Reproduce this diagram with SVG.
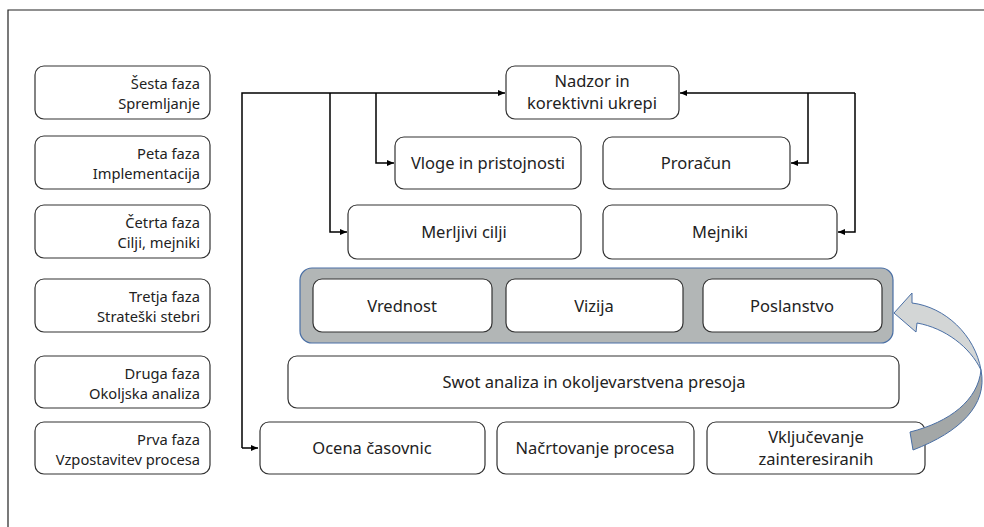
<svg xmlns="http://www.w3.org/2000/svg" width="984" height="527" viewBox="0 0 984 527">
<defs>
<marker id="arr" markerWidth="8" markerHeight="8" refX="7" refY="4" orient="auto" markerUnits="userSpaceOnUse">
<path d="M0,1 L7,4 L0,7 Z" fill="#000"/>
</marker>
<style>
.box{fill:#fff;stroke:#333;stroke-width:1.2}
.t{font-family:"Noto Sans","Liberation Sans",sans-serif;font-size:16.5px;fill:#222;text-anchor:middle}
.l{font-family:"Noto Sans","Liberation Sans",sans-serif;font-size:14.7px;fill:#222;text-anchor:end}
.c{fill:none;stroke:#000;stroke-width:1.5}
</style>
</defs>
<rect width="984" height="527" fill="#fff"/>
<g id="frame"><path d="M8,527 L8,10 L984,10" fill="none" stroke="#222" stroke-width="1.2"/></g>

<g id="phase6"><rect class="box" x="35" y="66" width="175" height="53" rx="9"/><text class="l" x="200" y="89">Šesta faza</text><text class="l" x="200" y="109">Spremljanje</text></g>
<g id="phase5"><rect class="box" x="35" y="136" width="175" height="53" rx="9"/><text class="l" x="200" y="159">Peta faza</text><text class="l" x="200" y="179">Implementacija</text></g>
<g id="phase4"><rect class="box" x="35" y="205" width="175" height="53" rx="9"/><text class="l" x="200" y="228">Četrta faza</text><text class="l" x="200" y="248">Cilji, mejniki</text></g>
<g id="phase3"><rect class="box" x="35" y="279" width="175" height="53" rx="9"/><text class="l" x="200" y="302">Tretja faza</text><text class="l" x="200" y="322">Strateški stebri</text></g>
<g id="phase2"><rect class="box" x="35" y="356" width="175" height="52" rx="9"/><text class="l" x="200" y="379">Druga faza</text><text class="l" x="200" y="399">Okoljska analiza</text></g>
<g id="phase1"><rect class="box" x="35" y="422" width="175" height="52" rx="9"/><text class="l" x="200" y="445">Prva faza</text><text class="l" x="200" y="465">Vzpostavitev procesa</text></g>

<g id="connectors">
<path class="c" d="M242,448 L242,93 L505,93" marker-end="url(#arr)"/>
<path class="c" d="M242,448 L258,448" marker-end="url(#arr)"/>
<path class="c" d="M330,93 L330,232 L347,232" marker-end="url(#arr)"/>
<path class="c" d="M376,93 L376,163 L394,163" marker-end="url(#arr)"/>
<path class="c" d="M855,93 L680,93" marker-end="url(#arr)"/>
<path class="c" d="M808,93 L808,163 L791,163" marker-end="url(#arr)"/>
<path class="c" d="M855,93 L855,232 L838,232" marker-end="url(#arr)"/>
</g>

<g id="nadzor"><rect class="box" x="506" y="66" width="173" height="53" rx="9"/><text class="t" x="592" y="87">Nadzor in</text><text class="t" x="592" y="109">korektivni ukrepi</text></g>
<g id="vloge"><rect class="box" x="395" y="137" width="186" height="52" rx="9"/><text class="t" x="488" y="169">Vloge in pristojnosti</text></g>
<g id="proracun"><rect class="box" x="603" y="137" width="187" height="52" rx="9"/><text class="t" x="696" y="169">Proračun</text></g>
<g id="merljivi"><rect class="box" x="348" y="205" width="233" height="54" rx="9"/><text class="t" x="464" y="238">Merljivi cilji</text></g>
<g id="mejniki"><rect class="box" x="603" y="205" width="234" height="54" rx="9"/><text class="t" x="720" y="238">Mejniki</text></g>

<g id="stebri"><rect x="300" y="268" width="593" height="75" rx="12" fill="#b2b6b6" stroke="#4a6fa5" stroke-width="1.2"/></g>
<g id="vrednost"><rect class="box" x="313" y="279" width="179" height="53" rx="9"/><text class="t" x="402" y="312">Vrednost</text></g>
<g id="vizija"><rect class="box" x="506" y="279" width="177" height="53" rx="9"/><text class="t" x="594" y="312">Vizija</text></g>
<g id="poslanstvo"><rect class="box" x="703" y="279" width="179" height="53" rx="9"/><text class="t" x="792" y="312">Poslanstvo</text></g>

<g id="swot"><rect class="box" x="288" y="356" width="611" height="52" rx="9"/><text class="t" x="594" y="388">Swot analiza in okoljevarstvena presoja</text></g>

<g id="ocena"><rect class="box" x="260" y="422" width="225" height="52" rx="9"/><text class="t" x="372" y="454">Ocena časovnic</text></g>
<g id="nacrtovanje"><rect class="box" x="497" y="422" width="197" height="52" rx="9"/><text class="t" x="595" y="454">Načrtovanje procesa</text></g>
<g id="vkljucevanje"><rect class="box" x="707" y="422" width="218" height="52" rx="9"/><text class="t" x="816" y="443">Vključevanje</text><text class="t" x="816" y="465">zainteresiranih</text></g>

<g id="curved-arrow" stroke="#4a6fa5" stroke-width="1" stroke-linejoin="round">
<path d="M912,303 C945,307 975,335 981,370 C970,347 945,328 917,323 L916,332 L894,313 L912,293 Z" fill="#d3d6d6"/>
<path d="M981,370 C988,405 960,432 913,450 L910,432 C950,422 978,400 981,370 Z" fill="#a3a7a7"/>
</g>
</svg>
